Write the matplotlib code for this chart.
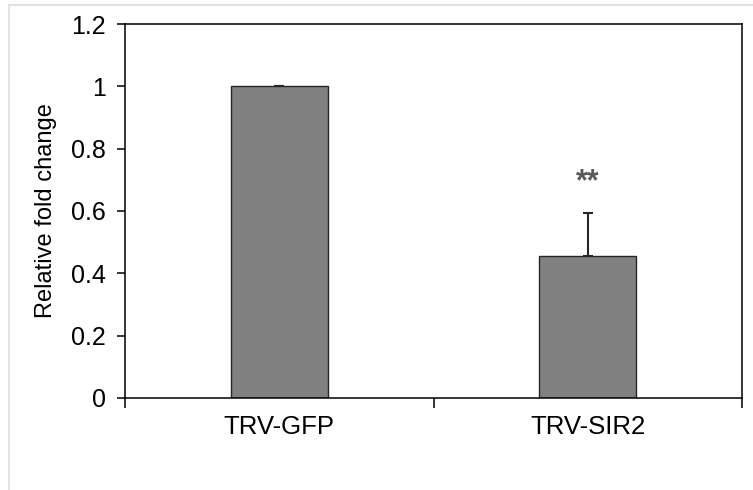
import matplotlib.pyplot as plt
from matplotlib.lines import Line2D

plt.rcParams['font.family'] = ['Liberation Sans', 'DejaVu Sans']

# data
groups = ['TRV-GFP', 'TRV-SIR2']
fold_change = [1.0, 0.455]
errors = [0.002, 0.14]
signif = ['', '**']
yticks = [0, 0.2, 0.4, 0.6, 0.8, 1.0, 1.2]
ytick_labels = ['0', '0.2', '0.4', '0.6', '0.8', '1', '1.2']

fig = plt.figure(figsize=(7.53, 4.90), dpi=100)
ax = fig.add_axes([0.166, 0.188, 0.8194, 0.763])

x = list(range(len(groups)))
ax.bar(x, fold_change, width=0.315, color='#808080', edgecolor='#262626',
       linewidth=1.0, zorder=2)
# error bar behind the bar so only the upper whisker shows
ax.errorbar(x, fold_change, yerr=[[0, 0], errors], fmt='none', ecolor='#262626',
            elinewidth=1.5, capsize=3.5, capthick=1.5, zorder=1)

for xi, v, e, s in zip(x, fold_change, errors, signif):
    if s:
        ax.text(xi, v + e + 0.05, s, ha='center', va='bottom', fontsize=22,
                fontweight='bold', color='#595959')

ax.set_xlim(-0.5, len(groups) - 0.5)
ax.set_ylim(0, 1.2)
ax.set_yticks(yticks)
ax.set_yticklabels(ytick_labels, fontsize=18)
ax.set_xticks(x)
ax.set_xticklabels(groups, fontsize=18.5)
ax.set_xticks([-0.5, 0.5, 1.5], minor=True)
ax.tick_params(axis='x', which='major', length=0, pad=12)
ax.tick_params(axis='x', which='minor', length=7, width=1.1, direction='out')
ax.tick_params(axis='y', length=6, width=1.1, direction='out', pad=8)
ax.set_ylabel('Relative fold change', fontsize=17, labelpad=10)

for sp in ax.spines.values():
    sp.set_linewidth(1.1)
    sp.set_color('black')

# light gray frame around the figure
fig.add_artist(Line2D([9 / 753, 9 / 753], [0, 1 - 5 / 490], color='#e2e2e2', lw=1.5))
fig.add_artist(Line2D([9 / 753, 1], [1 - 5 / 490, 1 - 5 / 490], color='#e2e2e2', lw=1.5))

fig.savefig('out.png', dpi=100)
